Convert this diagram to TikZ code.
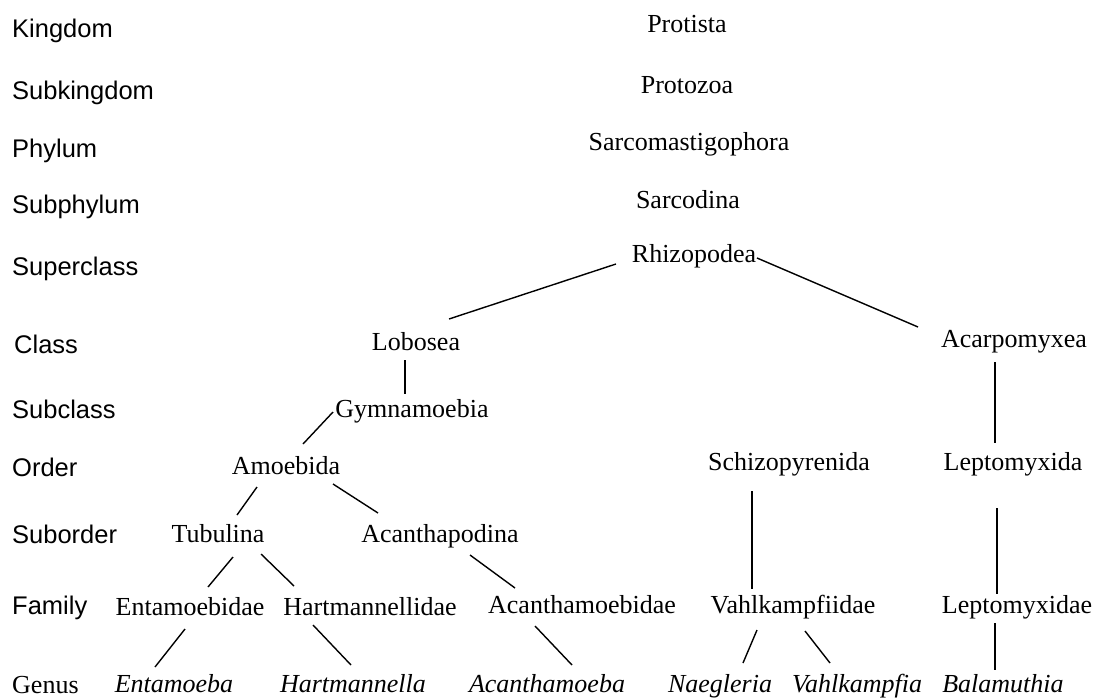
\documentclass[tikz,border=0pt]{standalone}
\usepackage{fontspec}
\setmainfont{Liberation Serif}
\setsansfont{Liberation Sans}
\begin{document}
\begin{tikzpicture}[x=1pt,y=-1pt,
  taxon/.style={anchor=base,inner sep=0pt,font=\fontsize{26}{30}\selectfont},
  genus/.style={taxon,font=\fontsize{26}{30}\selectfont\itshape},
  rank/.style={anchor=base west,inner sep=0pt,font=\sffamily\fontsize{25.5}{30}\selectfont},
  rankserif/.style={anchor=base west,inner sep=0pt,font=\fontsize{26}{30}\selectfont},
  link/.style={line width=1.4pt}]
\useasboundingbox (0,0) rectangle (1105,699);
% rank labels
\node[rank] (rKin) at (12,37) {Kingdom};
\node[rank] (rSub) at (12,99) {Subkingdom};
\node[rank] (rPhy) at (12,157) {Phylum};
\node[rank] (rSph) at (12,213) {Subphylum};
\node[rank] (rSup) at (12,275) {Superclass};
\node[rank] (rCla) at (14,353) {Class};
\node[rank] (rScl) at (12,418) {Subclass};
\node[rank] (rOrd) at (12,476) {Order};
\node[rank] (rSor) at (12,543) {Suborder};
\node[rank] (rFam) at (12,614) {Family};
\node[rankserif] (rGen) at (12,693) {Genus};
% taxa
\node[taxon] (kin) at (687,32) {Protista};
\node[taxon] (sub) at (687,93) {Protozoa};
\node[taxon] (phy) at (689,150) {Sarcomastigophora};
\node[taxon] (sph) at (688,208) {Sarcodina};
\node[taxon] (rhi) at (694,262) {Rhizopodea};
\node[taxon] (lob) at (416,350) {Lobosea};
\node[taxon] (aca) at (1014,347) {Acarpomyxea};
\node[taxon] (gym) at (412,417) {Gymnamoebia};
\node[taxon] (amo) at (286,474) {Amoebida};
\node[taxon] (sch) at (789,470) {Schizopyrenida};
\node[taxon] (lepo) at (1013,470) {Leptomyxida};
\node[taxon] (tub) at (218,542) {Tubulina};
\node[taxon] (acp) at (440,542) {Acanthapodina};
\node[taxon] (ent) at (190,615) {Entamoebidae};
\node[taxon] (har) at (370,615) {Hartmannellidae};
\node[taxon] (acd) at (582,613) {Acanthamoebidae};
\node[taxon] (vah) at (793,613) {Vahlkampfiidae};
\node[taxon] (lpd) at (1017,613) {Leptomyxidae};
\node[genus] (gEnt) at (174,692) {Entamoeba};
\node[genus] (gHar) at (353,692) {Hartmannella};
\node[genus] (gAca) at (547,692) {Acanthamoeba};
\node[genus] (gNae) at (720,692) {Naegleria};
\node[genus] (gVah) at (857,692) {Vahlkampfia};
\node[genus] (gBal) at (1003,692) {Balamuthia};
% connectors
\draw[link] ([shift={(-78,2)}]rhi.base) -- ([shift={(33,-31)}]lob.base);
\draw[link] ([shift={(63,-4)}]rhi.base) -- ([shift={(-96,-20)}]aca.base);
\draw[link] ([shift={(-11,10)}]lob.base) -- ([shift={(-7,-23)}]gym.base);
\draw[link] ([shift={(-79,-5)}]gym.base) -- ([shift={(17,-30)}]amo.base);
\draw[link] ([shift={(-19,15)}]aca.base) -- ([shift={(-18,-27)}]lepo.base);
\draw[link] ([shift={(-29,13)}]amo.base) -- ([shift={(19,-27)}]tub.base);
\draw[link] ([shift={(47,10)}]amo.base) -- ([shift={(-62,-29)}]acp.base);
\draw[link] ([shift={(-37,21)}]sch.base) -- ([shift={(-41,-24)}]vah.base);
\draw[link] ([shift={(-16,38)}]lepo.base) -- ([shift={(-20,-19)}]lpd.base);
\draw[link] ([shift={(15,15)}]tub.base) -- ([shift={(18,-28)}]ent.base);
\draw[link] ([shift={(43,12)}]tub.base) -- ([shift={(-76,-29)}]har.base);
\draw[link] ([shift={(30,13)}]acp.base) -- ([shift={(-67,-25)}]acd.base);
\draw[link] ([shift={(-5,14)}]ent.base) -- ([shift={(-19,-25)}]gEnt.base);
\draw[link] ([shift={(-57,10)}]har.base) -- ([shift={(-2,-27)}]gHar.base);
\draw[link] ([shift={(-47,13)}]acd.base) -- ([shift={(25,-27)}]gAca.base);
\draw[link] ([shift={(-36,17)}]vah.base) -- ([shift={(23,-29)}]gNae.base);
\draw[link] ([shift={(12,18)}]vah.base) -- ([shift={(-27,-29)}]gVah.base);
\draw[link] ([shift={(-22,10)}]lpd.base) -- ([shift={(-8,-22)}]gBal.base);
\end{tikzpicture}
\end{document}
